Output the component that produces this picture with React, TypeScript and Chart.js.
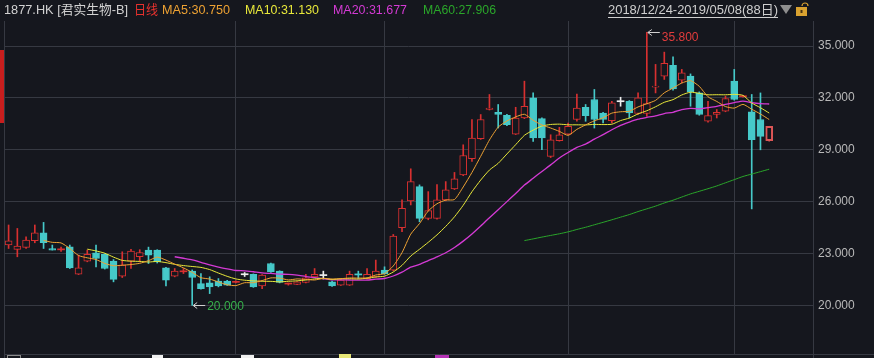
import React, { useEffect, useRef } from 'react';
import { Chart, registerables } from 'chart.js';

Chart.register(...registerables);

// ---- data (daily candles, 2018/12/24 – 2019/05/08, 88 trading days) ----
const opens = [
  23.49, 23.24, 23.35, 23.74, 24.20, 23.29, 23.22, 23.39, 21.81, 22.56,
  23.04, 22.95, 22.56, 21.69, 22.56, 22.81, 23.20, 23.20, 22.17, 21.69,
  21.96, 21.98, 21.26, 21.30, 21.40, 21.40, 21.34, 21.80, 21.79, 21.13,
  22.42, 21.98, 21.24, 21.21, 21.32, 21.65, 21.75, 21.36, 21.17, 21.17,
  21.81, 21.55, 21.65, 22.04, 22.04, 24.50, 26.04, 26.87, 25.03, 25.03,
  26.10, 26.74, 27.55, 28.48, 29.64, 31.33, 31.17, 30.99, 29.91, 30.84,
  32.00, 30.80, 28.62, 29.53, 29.91, 30.75, 31.46, 31.91, 31.13, 30.69,
  31.81, 31.81, 31.10, 31.10, 32.62, 33.26, 33.88, 33.03, 33.26, 32.29,
  30.65, 31.04, 31.23, 32.97, 32.08, 31.19, 30.75, 29.53,
];
const highs = [
  24.65, 24.45, 23.97, 24.65, 24.80, 23.49, 23.37, 23.49, 22.91, 23.20,
  23.49, 22.99, 22.65, 23.10, 23.24, 23.22, 23.37, 23.22, 22.20, 22.13,
  22.13, 22.05, 21.84, 21.65, 21.55, 21.45, 21.42, 21.90, 21.82, 21.78,
  22.45, 22.00, 21.29, 21.38, 21.79, 22.13, 21.98, 21.40, 21.50, 21.98,
  21.98, 22.13, 22.62, 22.23, 24.10, 26.10, 27.90, 26.97, 26.58, 26.99,
  27.16, 27.69, 29.29, 30.75, 31.04, 32.20, 31.62, 31.05, 31.46, 32.97,
  32.29, 30.85, 29.87, 30.30, 30.55, 32.23, 31.62, 32.49, 31.17, 31.81,
  32.04, 31.85, 32.29, 35.80, 33.94, 34.65, 34.38, 33.65, 33.39, 32.35,
  31.81, 31.33, 32.10, 33.65, 32.15, 32.20, 32.29, 30.36,
];
const lows = [
  23.29, 22.81, 23.29, 23.62, 23.29, 23.20, 23.12, 22.13, 21.78, 22.52,
  22.23, 22.10, 21.36, 21.61, 22.13, 22.52, 22.42, 22.45, 21.13, 21.65,
  21.84, 20.00, 20.94, 20.68, 21.07, 21.15, 21.30, 21.67, 21.04, 20.97,
  21.90, 21.30, 21.17, 21.19, 21.30, 21.60, 21.52, 21.10, 21.15, 21.15,
  21.55, 21.52, 21.62, 21.80, 22.00, 24.26, 25.81, 24.84, 24.95, 24.98,
  26.05, 26.70, 27.50, 28.33, 29.60, 31.30, 30.26, 30.40, 29.88, 30.80,
  29.49, 29.00, 28.55, 29.50, 29.88, 30.65, 30.65, 30.26, 30.55, 30.55,
  31.52, 30.84, 31.05, 30.94, 32.29, 33.07, 32.45, 32.87, 31.52, 31.00,
  30.60, 30.84, 31.20, 31.87, 32.05, 25.58, 29.00, 29.50,
];
const closes = [
  23.74, 23.43, 23.78, 24.20, 23.62, 23.20, 23.26, 22.17, 22.17, 22.95,
  22.71, 22.13, 21.50, 22.33, 23.14, 23.06, 22.91, 22.52, 21.46, 21.98,
  21.98, 21.61, 20.97, 21.07, 21.13, 21.17, 21.38, 21.80, 21.07, 21.75,
  21.94, 21.32, 21.28, 21.36, 21.59, 21.79, 21.75, 21.13, 21.46, 21.79,
  21.77, 21.79, 21.98, 21.84, 24.01, 25.62, 27.16, 25.03, 25.48, 26.10,
  26.68, 27.32, 28.67, 29.68, 30.75, 31.42, 31.04, 30.46, 30.84, 31.52,
  29.68, 29.68, 29.58, 29.87, 30.36, 31.42, 30.98, 30.75, 30.75, 31.71,
  31.81, 31.13, 32.00, 31.67, 32.68, 34.00, 32.52, 33.45, 32.35, 31.04,
  30.98, 31.17, 31.96, 31.91, 32.12, 29.58, 29.78, 30.36,
];
// first trading day of Feb, Mar, Apr, May (vertical grid lines)
const monthStartIdx = [26, 43, 64, 83];
const priceTicks = [20, 23, 26, 29, 32, 35];
const maPeriods = [5, 10, 20, 60];
const maColors = ['#eea233', '#e8e83a', '#d43ad4', '#2aa62a'];
const maLabels = ['MA5:30.750', 'MA10:31.130', 'MA20:31.677', 'MA60:27.906'];
const stockTitle = '1877.HK [君实生物-B]';
const periodLabel = '日线';
const dateRange = '2018/12/24-2019/05/08(88日)';

const BG = '#15171e';
const GRID = '#363942';
const UP = '#d83030';
const DOWN = '#46c9c9';
const FLAT = '#eeeeee';
const LAST_UP = '#dc5656';
const FONT = '"Liberation Sans", "Noto Sans CJK SC", Arial, sans-serif';

function movingAverage(period: number) {
  const out: { x: number; y: number }[] = [];
  for (let i = period - 1; i < closes.length; i++) {
    let s = 0;
    for (let j = i - period + 1; j <= i; j++) s += closes[j];
    out.push({ x: i, y: s / period });
  }
  return out;
}

const lastIdx = closes.length - 1;
const isThin = (i: number) => Math.abs(closes[i] - opens[i]) < 0.06;
function candleColor(i: number) {
  if (closes[i] > opens[i]) return i === lastIdx ? LAST_UP : UP;
  if (closes[i] < opens[i]) return DOWN;
  return FLAT;
}

const zeroPad = (s: any) => {
  s.paddingTop = 0;
  s.paddingBottom = 0;
  s.paddingLeft = 0;
  s.paddingRight = 0;
};

const decorPlugin = {
  id: 'klineDecor',
  beforeDraw(chart: any) {
    const { ctx, width, height } = chart;
    ctx.save();
    ctx.fillStyle = BG;
    ctx.fillRect(0, 0, width, height);
    ctx.restore();
  },
  afterDraw(chart: any) {
    const { ctx, chartArea, scales, width, height } = chart;
    const xs = scales.x;
    const ys = scales.y;
    ctx.save();
    // frame lines
    ctx.strokeStyle = GRID;
    ctx.lineWidth = 1;
    ctx.beginPath();
    const L = Math.round(chartArea.left) + 0.5;
    const R = Math.round(chartArea.right) + 0.5;
    const B = Math.round(chartArea.bottom) + 0.5;
    ctx.moveTo(L, chartArea.top);
    ctx.lineTo(L, height);
    ctx.moveTo(R, chartArea.top);
    ctx.lineTo(R, height);
    ctx.moveTo(L, B);
    ctx.lineTo(width, B);
    ctx.stroke();

    // left red tab
    ctx.fillStyle = '#c81e1e';
    ctx.fillRect(0, 50, 4, 73);

    // header
    ctx.textBaseline = 'middle';
    ctx.textAlign = 'left';
    ctx.font = '13px ' + FONT;
    ctx.fillStyle = '#d2d2d2';
    ctx.fillText(stockTitle, 4, 10, 124);
    ctx.fillStyle = '#e8322e';
    ctx.fillText(periodLabel, 134, 10, 24);
    const maX = [162, 245, 333, 423];
    const maW = [68, 74, 74, 73];
    maLabels.forEach((t, k) => {
      ctx.fillStyle = maColors[k];
      ctx.fillText(t, maX[k], 10, maW[k]);
    });
    ctx.fillStyle = '#cfcfcf';
    ctx.fillText(dateRange, 608, 10, 170);
    const dw = Math.min(170, ctx.measureText(dateRange).width);
    ctx.strokeStyle = '#cfcfcf';
    ctx.beginPath();
    ctx.moveTo(608, 17.5);
    ctx.lineTo(608 + dw, 17.5);
    ctx.stroke();
    // dropdown triangle
    ctx.fillStyle = '#8e8e8e';
    ctx.beginPath();
    ctx.moveTo(780, 5);
    ctx.lineTo(792, 5);
    ctx.lineTo(786, 14);
    ctx.closePath();
    ctx.fill();
    // lock icon
    ctx.fillStyle = '#d9a230';
    ctx.fillRect(796, 7, 11, 9);
    ctx.strokeStyle = '#d9a230';
    ctx.lineWidth = 1.2;
    ctx.beginPath();
    ctx.arc(805, 6, 3, Math.PI, 0);
    ctx.stroke();
    ctx.fillStyle = '#4a3410';
    ctx.fillRect(800.5, 10, 2, 3);

    // high / low annotations
    let hi = 0;
    let lo = 0;
    highs.forEach((v, i) => { if (v > highs[hi]) hi = i; });
    lows.forEach((v, i) => { if (v < lows[lo]) lo = i; });
    const drawArrow = (px: number, py: number) => {
      ctx.strokeStyle = '#d0d0d0';
      ctx.lineWidth = 1;
      ctx.beginPath();
      ctx.moveTo(px + 1, py);
      ctx.lineTo(px + 13, py);
      ctx.moveTo(px + 1, py);
      ctx.lineTo(px + 5, py - 3);
      ctx.moveTo(px + 1, py);
      ctx.lineTo(px + 5, py + 3);
      ctx.stroke();
    };
    ctx.font = '12px ' + FONT;
    const hx = xs.getPixelForValue(hi);
    const hy = Math.round(ys.getPixelForValue(highs[hi])) + 0.5;
    drawArrow(hx, hy);
    ctx.fillStyle = '#e23c3c';
    ctx.fillText(highs[hi].toFixed(3), hx + 15, hy + 5.5);
    const lx = xs.getPixelForValue(lo);
    const ly = Math.round(ys.getPixelForValue(lows[lo])) + 0.5;
    drawArrow(lx, ly);
    ctx.fillStyle = '#36b04a';
    ctx.fillText(lows[lo].toFixed(3), lx + 15, ly + 1);

    // cut-off legend marks of the panel below
    ctx.strokeStyle = '#8a8a8a';
    ctx.lineWidth = 1;
    ctx.strokeRect(7.5, 355.5, 13, 6);
    ctx.fillStyle = '#f0f0f0';
    ctx.fillRect(152, 355, 11, 3);
    ctx.fillRect(241, 355, 13, 3);
    ctx.fillStyle = '#e8e878';
    ctx.fillRect(339, 354, 12, 4);
    ctx.fillStyle = '#b532b5';
    ctx.fillRect(435, 355, 14, 3);
    ctx.restore();
  },
};

export default function App() {
  const canvasRef = useRef<HTMLCanvasElement | null>(null);

  useEffect(() => {
    document.body.style.margin = '0';
    document.body.style.background = BG;
    const canvas = canvasRef.current;
    if (!canvas) return;

    const lineSets = maPeriods.map((p, k) => ({
      type: 'line' as const,
      label: 'MA' + p,
      data: movingAverage(p),
      borderColor: maColors[k],
      borderWidth: k === 2 ? 1.3 : 1,
      pointRadius: 0,
      tension: 0.2,
      fill: false,
    }));

    const bodyData = opens.map((o, i) => {
      const c = closes[i];
      let a = Math.min(o, c);
      let b = Math.max(o, c);
      if (b - a < 0.06) {
        const m = (a + b) / 2;
        a = m - 0.03;
        b = m + 0.03;
      }
      return { x: i, y: [a, b] };
    });
    const wickData = opens.map((_, i) => ({ x: i, y: [lows[i], highs[i]] }));

    const chart = new Chart(canvas, {
      type: 'bar',
      data: {
        datasets: [
          ...lineSets,
          {
            type: 'bar',
            label: 'body',
            data: bodyData as any,
            grouped: false,
            barThickness: 7,
            borderSkipped: false,
            backgroundColor: (ctx: any) => {
              const i = ctx.dataIndex;
              if (closes[i] > opens[i] && !isThin(i)) return BG;
              return candleColor(i);
            },
            borderColor: (ctx: any) => candleColor(ctx.dataIndex),
            borderWidth: (ctx: any) => {
              const i = ctx.dataIndex;
              if (isThin(i)) return 0;
              return i === lastIdx ? 2 : 1;
            },
          } as any,
          {
            type: 'bar',
            label: 'wick',
            data: wickData as any,
            grouped: false,
            barThickness: 1,
            borderWidth: 0,
            backgroundColor: (ctx: any) => candleColor(ctx.dataIndex),
          } as any,
        ],
      },
      options: {
        animation: false,
        responsive: false,
        devicePixelRatio: 1,
        events: [],
        layout: { padding: { left: 4, top: 21, right: 0, bottom: 4 } },
        plugins: {
          legend: { display: false },
          tooltip: { enabled: false },
          title: { display: false },
        },
        scales: {
          x: {
            type: 'linear',
            bounds: 'data',
            min: -0.526,
            max: 92.009,
            offset: false,
            grid: { color: GRID, drawTicks: false, offset: false },
            border: { display: false },
            ticks: { display: false },
            afterBuildTicks: (s: any) => {
              s.ticks = monthStartIdx.map((v) => ({ value: v }));
            },
            afterFit: (s: any) => {
              s.height = 0;
              zeroPad(s);
            },
          },
          y: {
            type: 'linear',
            position: 'right',
            bounds: 'data',
            min: 17.186,
            max: 36.451,
            grid: { color: GRID, drawTicks: false },
            border: { display: true, color: GRID },
            ticks: {
              color: '#b9b9b9',
              padding: 5,
              font: { size: 12, family: FONT },
              callback: (v: any) => Number(v).toFixed(3),
            },
            afterBuildTicks: (s: any) => {
              s.ticks = priceTicks.map((v) => ({ value: v }));
            },
            afterFit: (s: any) => {
              s.width = 61;
              zeroPad(s);
            },
          },
        },
      } as any,
      plugins: [decorPlugin],
    });

    return () => chart.destroy();
  }, []);

  return (
    <div style={{ position: 'absolute', left: 0, top: 0, width: 874, height: 358, background: BG }}>
      <canvas ref={canvasRef} width={874} height={358} style={{ display: 'block' }} />
    </div>
  );
}
